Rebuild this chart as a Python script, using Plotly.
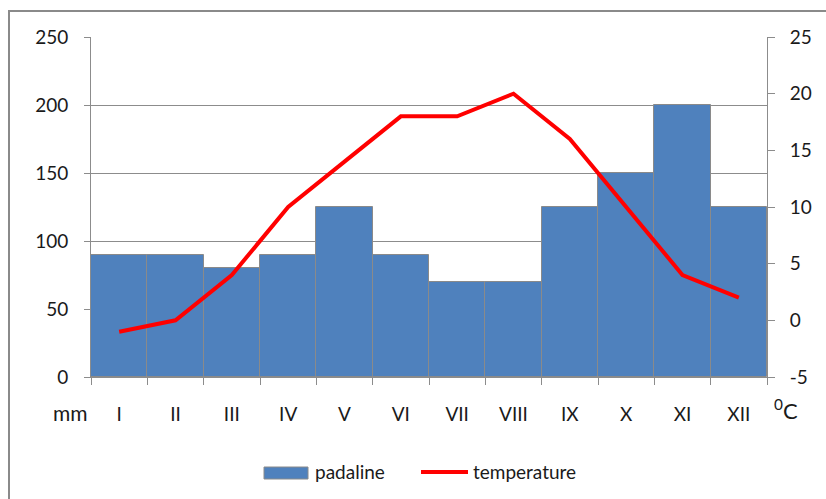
import plotly.graph_objects as go

months = ["I", "II", "III", "IV", "V", "VI", "VII", "VIII", "IX", "X", "XI", "XII"]
padaline = [90, 90, 80, 90, 125, 90, 70, 70, 125, 150, 200, 125]
temperature = [-1, 0, 4, 10, 14, 18, 18, 20, 16, 10, 4, 2]
temp_ticks = [-5, 0, 5, 10, 15, 20, 25]

font_family = "Lato, 'Open Sans', sans-serif"
grey = "#8c8c8c"
bar_color = "#4F81BD"
line_color = "#FF0000"

fig = go.Figure()
fig.add_trace(go.Bar(
    x=months, y=padaline, name="padaline", showlegend=False,
    marker=dict(color=bar_color, line=dict(color="#8a8a8a", width=1)),
))
fig.add_trace(go.Scatter(
    x=months, y=temperature, name="temperature", yaxis="y2", showlegend=False,
    mode="lines", line=dict(color=line_color, width=4),
))

W, H = 826, 499
L, R, T, B = 91, 59, 37, 122
pw, ph = W - L - R, H - T - B


def px(x):
    return (x - L) / pw


def py(y):
    return (T + ph - y) / ph


fs = 19

fig.update_layout(
    width=W, height=H,
    margin=dict(l=L, r=R, t=T, b=B, autoexpand=False),
    paper_bgcolor="white", plot_bgcolor="white",
    font=dict(family=font_family, size=fs, color="#1a1a1a"),
    bargap=0,
    showlegend=False,
    xaxis=dict(
        type="category", tickson="boundaries", ticks="outside", ticklen=7,
        tickcolor=grey, showline=True, linecolor=grey, linewidth=1,
        showgrid=False, ticklabelstandoff=20, automargin=False,
    ),
    yaxis=dict(
        range=[0, 250], dtick=50, ticks="outside", ticklen=6, tickcolor=grey,
        showline=True, linecolor=grey, linewidth=1,
        showgrid=True, gridcolor=grey, gridwidth=1, zeroline=False,
        ticklabelstandoff=12, automargin=False,
    ),
    yaxis2=dict(
        range=[-5, 25], tickmode="array", tickvals=temp_ticks,
        ticktext=[str(v) for v in temp_ticks],
        overlaying="y", side="right",
        ticks="outside", ticklen=7, tickcolor=grey,
        showline=True, linecolor=grey, linewidth=1,
        showgrid=False, zeroline=False, ticklabelstandoff=11,
        automargin=False,
    ),
    annotations=[
        dict(text="mm", xref="paper", yref="paper",
             x=px(70), y=py(412), xanchor="center", yanchor="middle",
             showarrow=False, font=dict(size=21)),
        dict(text="<sup>0</sup>C", xref="paper", yref="paper",
             x=px(786), y=py(409), xanchor="center", yanchor="middle",
             showarrow=False, font=dict(size=22)),
        # legend texts
        dict(text="padaline", xref="paper", yref="paper",
             x=px(313), y=py(472), xanchor="left", yanchor="middle",
             showarrow=False, font=dict(size=fs)),
        dict(text="temperature", xref="paper", yref="paper",
             x=px(471), y=py(472), xanchor="left", yanchor="middle",
             showarrow=False, font=dict(size=fs)),
    ],
    shapes=[
        dict(type="rect", xref="paper", yref="paper",
             x0=px(9), x1=1.3, y0=-0.6, y1=py(11),
             line=dict(color="#8a8a8a", width=2), layer="below"),
        # legend swatches
        dict(type="rect", xref="paper", yref="paper",
             x0=px(264), x1=px(308), y0=py(479), y1=py(467),
             fillcolor=bar_color, line=dict(color="#8a8a8a", width=1)),
        dict(type="line", xref="paper", yref="paper",
             x0=px(421), x1=px(468), y0=py(472), y1=py(472),
             line=dict(color=line_color, width=4)),
    ],
)

fig.write_html("out.html")
